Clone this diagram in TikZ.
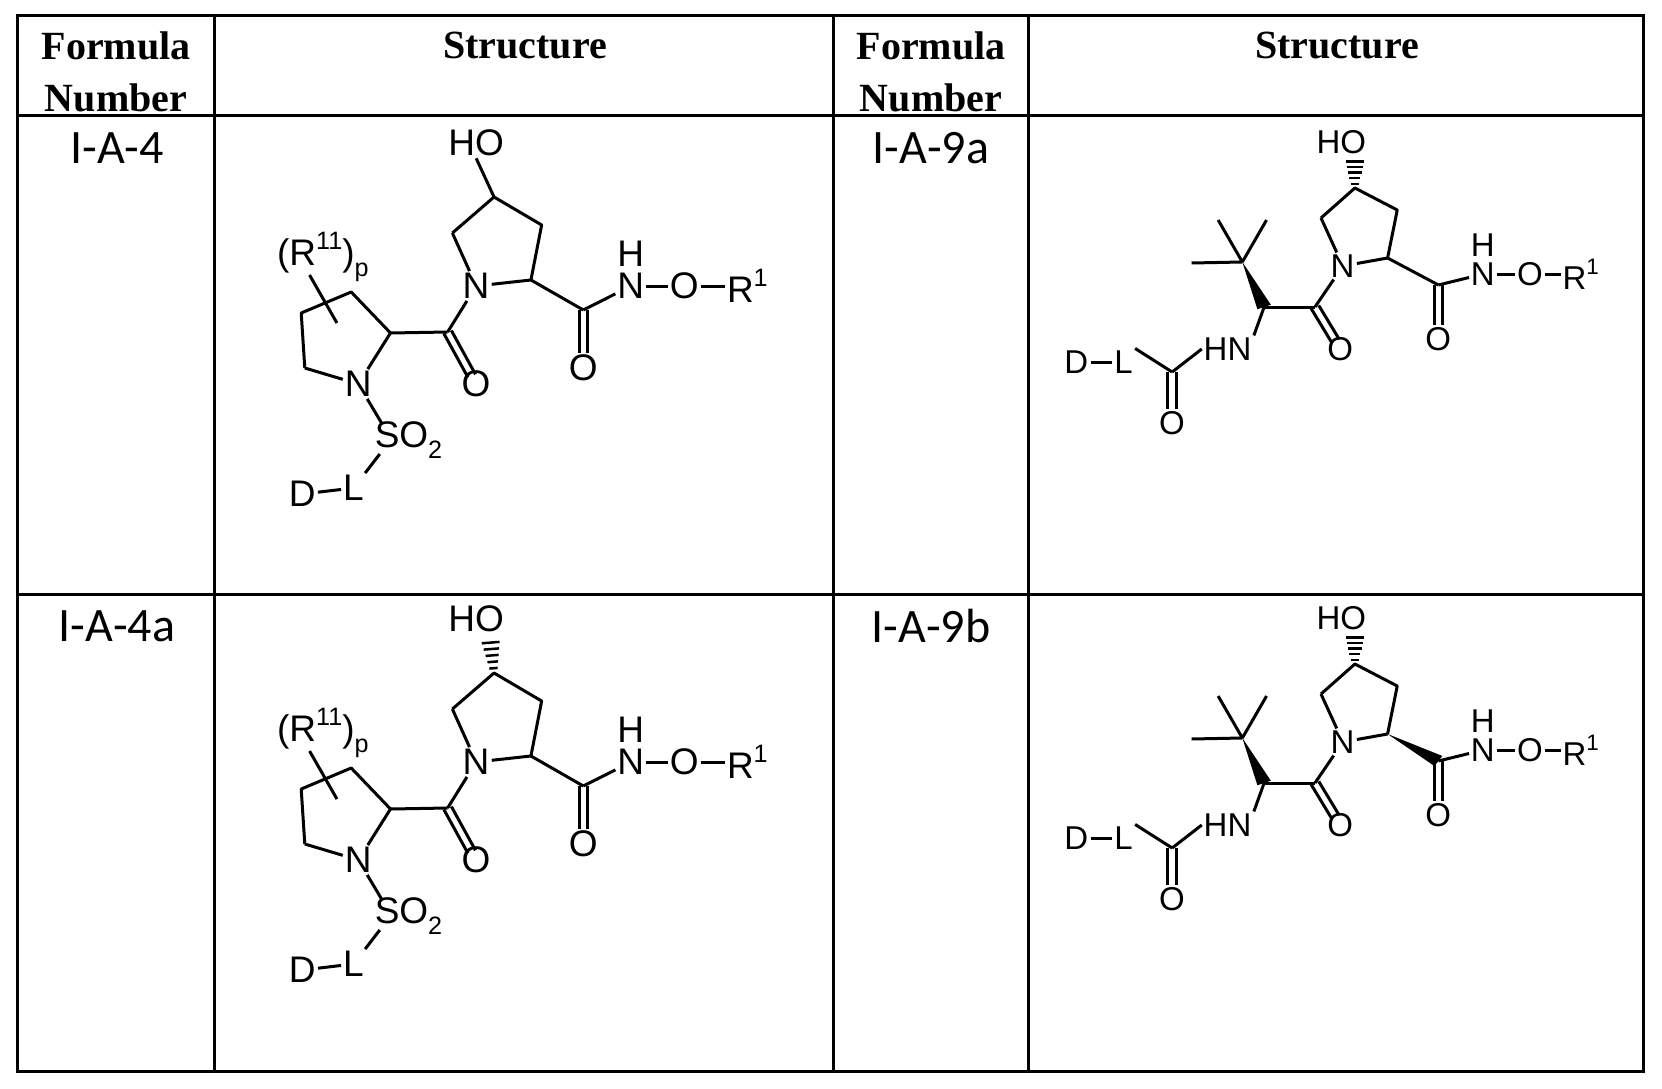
\documentclass[tikz,border=0pt]{standalone}
\usepackage{fontspec}
\setmainfont{Liberation Serif}
\newfontfamily\chem{Liberation Sans}
\newfontfamily\numf{Carlito}
\newcommand{\csup}[1]{\raisebox{0.45em}{\scalebox{0.68}{#1}}}
\newcommand{\csub}[1]{\raisebox{-0.3em}{\scalebox{0.68}{#1}}}
\newcommand{\hashbond}[2]{% from narrow #1 to wide #2
  \foreach \t/\w in {0.15/3.5,0.35/4.5,0.55/5.5,0.75/6.5,0.95/7.5}{
    \draw[line width=2.5pt] ($(#1)!\t!(#2)!\w pt!90:(#2)$) -- ($(#1)!\t!(#2)!\w pt!-90:(#2)$);}}
\newcommand{\wedgebond}[2]{% narrow at #1, wide at #2
  \fill ($(#1)$) -- ($(#2)!6pt!90:(#1)$) -- ($(#2)!6pt!-90:(#1)$) -- cycle;}
\usetikzlibrary{calc}
\begin{document}
\begin{tikzpicture}[x=1pt,y=-1pt,
  grid/.style={line width=3pt},
  bond/.style={line width=3pt},
  atm/.style={font=\chem\fontsize{37}{37}\selectfont, inner sep=2pt},
  atms/.style={font=\chem\fontsize{33}{33}\selectfont, inner sep=2pt},
  hdr/.style={font=\bfseries\fontsize{40}{52}\selectfont, align=center},
  num/.style={font=\numf\fontsize{48}{48}\selectfont}]
\useasboundingbox (0,0) rectangle (1662,1089);
% table
\draw[grid] (17,16) rectangle (1643,1071);
\draw[grid] (17,116) -- (1643,116);
\draw[grid] (17,594) -- (1643,594);
\foreach \x in {214,833,1028}{\draw[grid] (\x,16) -- (\x,1071);}
\node[hdr] (h1) at (116,72) {Formula\\Number};
\node[hdr] (h2) at (525,46) {Structure};
\node[hdr] (h3) at (931,72) {Formula\\Number};
\node[hdr] (h4) at (1337,46) {Structure};
\node[num] (n1) at (117,148) {I-A-4};
\node[num] (n2) at (117,626) {I-A-4a};
\node[num] (n3) at (931,148) {I-A-9a};
\node[num] (n4) at (931,626) {I-A-9b};

% ---------- I-A-4 and I-A-4a ----------
\foreach \dy/\hs in {0/0,476/1}{
\begin{scope}[shift={(-38,\dy)},xscale=1.19]
\node[atm] (HO) at (432,143) {HO};
\coordinate (C4) at (447,197);
\coordinate (C3) at (487,225);
\coordinate (C5) at (412,233);
\node[atm] (N) at (432,286) {N};
\coordinate (C2) at (478,280);
\coordinate (Ca) at (522,310);
\node[atm] (Oa) at (522,368) {O};
\node[atm] (NH) at (562,286) {N};
\node[atm] (H) at (562,254) {H};
\node[atm] (Ox) at (607,286) {O};
\node[atm,anchor=west] (R) at (641,286) {R\csup{1}};
\coordinate (Cb) at (408,332);
\node[atm] (Ob) at (432,384) {O};
\coordinate (P2) at (360,333);
\coordinate (P3) at (327,292);
\coordinate (P4) at (285,313);
\coordinate (P5) at (288,368);
\node[atm] (NP) at (333,384) {N};
\node[atm,anchor=west] (R11) at (263,257) {(R\csup{11})\csub{p}};
\coordinate (s1) at (292,275);
\coordinate (s2) at (315,323);
\node[atm,anchor=west] (SO) at (345,440) {SO\csub{2}};
\coordinate (Scen) at (353,424);
\coordinate (Scen2) at (351,454);
\node[atm] (L) at (329,488) {L};
\node[atm] (D) at (286,494) {D};
\ifnum\hs=0
  \draw[bond] (C4) -- (HO.south);
\else
  \coordinate (HOb) at (444,165);
  \hashbond{C4}{HOb}
\fi
\draw[bond,line join=round] (C5) -- (C4) -- (C3) -- (C2);
\draw[bond] (C2) -- (N);
\draw[bond] (N) -- (C5);
\draw[bond] (C2) -- (Ca);
\draw[bond] (Ca) -- (NH);
\draw[bond] ($(Ca)+(-3.5,0)$) -- ($(Oa.north)+(-3.5,0)$) ($(Ca)+(3.5,0)$) -- ($(Oa.north)+(3.5,0)$);
\draw[bond] (NH) -- (Ox);
\draw[bond] (Ox) -- (R.west);
\draw[bond] (N) -- (Cb);
\draw[bond] (Cb) -- (P2);
\draw[bond] ($(Cb)!3.5pt!90:(Ob)$) -- ($(Ob)!9pt!(Cb)!3.5pt!-90:(Cb)$);
\draw[bond] ($(Cb)!3.5pt!-90:(Ob)$) -- ($(Ob)!9pt!(Cb)!3.5pt!90:(Cb)$);
\draw[bond,line join=round] (P2) -- (P3) -- (P4) -- (P5);
\draw[bond] (P5) -- (NP);
\draw[bond] (NP) -- (P2);
\draw[bond] (s1) -- (s2);
\draw[bond] (NP) -- (Scen);
\draw[bond] (Scen2) -- (L);
\draw[bond] (L) -- (D);
\end{scope}}

% ---------- I-A-9a and I-A-9b ----------
\foreach \dy/\ws in {0/0,476/1}{
\begin{scope}[shift={(-216,\dy)},xscale=1.21]
\node[atms] (HO) at (1287,142) {HO};
\coordinate (C4) at (1298,188);
\coordinate (HOb) at (1298,160);
\coordinate (C3) at (1333,210);
\coordinate (C5) at (1270,218);
\node[atms] (N) at (1288,266) {N};
\coordinate (C2) at (1325,258);
\coordinate (Ca) at (1367,285);
\node[atms] (Oa) at (1367,339) {O};
\node[atms] (NH) at (1404,274) {N};
\node[atms] (H) at (1404,245) {H};
\node[atms] (Ox) at (1443,274) {O};
\node[atms,anchor=west] (R) at (1468,274) {R\csup{1}};
\coordinate (Cb) at (1265,307);
\node[atms] (Ob) at (1286,349) {O};
\coordinate (Ca2) at (1223,307);
\coordinate (Ct) at (1205,262);
\coordinate (m1) at (1163,263);
\coordinate (m2) at (1185,220);
\coordinate (m3) at (1225,220);
\node[atms] (HN) at (1193,349) {HN};
\coordinate (Cc) at (1147,372);
\node[atms] (Oc) at (1147,423) {O};
\node[atms] (L) at (1107,362) {L};
\node[atms] (D) at (1068,362) {D};
\hashbond{C4}{HOb}
\draw[bond,line join=round] (C5) -- (C4) -- (C3) -- (C2);
\draw[bond] (C2) -- (N);
\draw[bond] (N) -- (C5);
\ifnum\ws=0
  \draw[bond] (C2) -- (Ca);
\else
  \wedgebond{C2}{Ca}
\fi
\draw[bond] (Ca) -- (NH);
\draw[bond] ($(Ca)+(-3.5,0)$) -- ($(Oa.north)+(-3.5,0)$) ($(Ca)+(3.5,0)$) -- ($(Oa.north)+(3.5,0)$);
\draw[bond] (NH) -- (Ox);
\draw[bond] (Ox) -- (R.west);
\draw[bond] (N) -- (Cb);
\draw[bond] (Cb) -- (Ca2);
\draw[bond] ($(Cb)!3.5pt!90:(Ob)$) -- ($(Ob)!9pt!(Cb)!3.5pt!-90:(Cb)$);
\draw[bond] ($(Cb)!3.5pt!-90:(Ob)$) -- ($(Ob)!9pt!(Cb)!3.5pt!90:(Cb)$);
\wedgebond{Ct}{Ca2}
\draw[bond] (Ct) -- (m1) (Ct) -- (m2) (Ct) -- (m3);
\draw[bond] (Ca2) -- (HN.north east);
\draw[bond] (HN.west) -- (Cc);
\draw[bond] ($(Cc)+(-3.5,0)$) -- ($(Oc.north)+(-3.5,0)$) ($(Cc)+(3.5,0)$) -- ($(Oc.north)+(3.5,0)$);
\draw[bond] (Cc) -- (L.north east);
\draw[bond] (L) -- (D);
\end{scope}}
\end{tikzpicture}
\end{document}
